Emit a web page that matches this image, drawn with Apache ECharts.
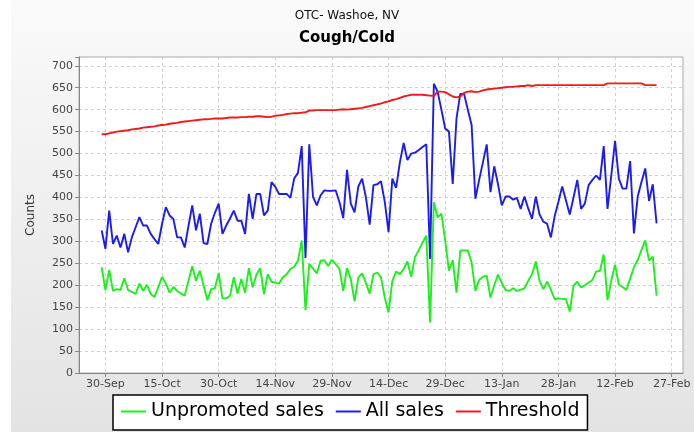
<!DOCTYPE html>
<html>
<head>
<meta charset="utf-8">
<script src="https://cdn.jsdelivr.net/npm/echarts@6/dist/echarts.min.js"></script>
<style>
  html, body { margin: 0; padding: 0; background: #fff; }
  #chart { width: 694px; height: 432px; }
</style>
</head>
<body>
<div id="chart"></div>
<script>
// daily values, first value is 29-Sep (day -1 counted from 30-Sep)
var firstDay = -1;
var axisStartDay = -7;   // 23-Sep
var axisEndDay = 153;    // 2-Mar
var tickLabels = ['30-Sep', '15-Oct', '30-Oct', '14-Nov', '29-Nov', '14-Dec', '29-Dec', '13-Jan', '28-Jan', '12-Feb', '27-Feb'];
var monthNames = ['Jan', 'Feb', 'Mar', 'Apr', 'May', 'Jun', 'Jul', 'Aug', 'Sep', 'Oct', 'Nov', 'Dec'];

var unpromoted = [
  241, 189, 235, 187, 191, 189, 216, 189, 185, 180, 204, 187, 201, 180, 173, 196,
  219, 204, 183, 196, 187, 181, 176, 210, 243, 210, 233, 200, 166, 191, 193, 228,
  170, 170, 176, 218, 181, 214, 183, 239, 195, 224, 239, 180, 225, 208, 206, 204,
  218, 225, 237, 242, 256, 302, 143, 248, 238, 227, 256, 257, 244, 258, 248, 237,
  187, 239, 214, 163, 218, 227, 205, 181, 225, 229, 218, 172, 138, 210, 231, 225,
  237, 254, 219, 264, 280, 297, 313, 115, 389, 355, 363, 302, 233, 257, 183, 279,
  279, 279, 252, 187, 212, 219, 222, 172, 200, 224, 205, 189, 187, 193, 187, 190,
  193, 210, 225, 254, 210, 191, 208, 190, 168, 170, 169, 168, 140, 199, 208, 195,
  200, 206, 212, 231, 233, 270, 166, 210, 247, 201, 196, 189, 215, 241, 257, 280,
  302, 256, 265, 176
];

var allSales = [
  325, 283, 370, 294, 313, 286, 317, 275, 309, 332, 355, 336, 336, 317, 305, 294,
  340, 378, 359, 351, 309, 309, 286, 335, 382, 325, 363, 296, 294, 340, 365, 386,
  317, 336, 352, 370, 347, 347, 317, 408, 351, 408, 408, 359, 370, 435, 424, 408,
  408, 408, 399, 443, 456, 517, 262, 521, 401, 382, 405, 416, 415, 415, 416, 389,
  353, 463, 386, 366, 425, 443, 400, 338, 428, 430, 437, 390, 321, 443, 422, 480,
  524, 485, 500, 502, 508, 515, 521, 260, 659, 641, 600, 557, 550, 431, 580, 636,
  636, 600, 565, 397, 440, 480, 521, 412, 471, 430, 382, 402, 402, 395, 399, 374,
  402, 375, 351, 402, 361, 345, 340, 309, 357, 390, 425, 393, 361, 400, 440, 374,
  386, 428, 440, 450, 440, 517, 374, 450, 529, 443, 420, 420, 483, 318, 402, 435,
  466, 392, 430, 341
];

var threshold = [
  544, 544, 546, 548, 550, 551, 552, 553, 555, 556, 557, 559, 560, 561, 562, 564,
  565, 566, 568, 569, 570, 572, 573, 574, 575, 576, 577, 578, 578, 579, 580, 580,
  580, 581, 582, 582, 582, 583, 583, 584, 584, 585, 585, 584, 583, 584, 586, 587,
  588, 590, 591, 592, 592, 593, 594, 598, 598, 599, 599, 599, 599, 599, 599, 600,
  601, 600, 601, 602, 603, 604, 606, 608, 610, 612, 614, 617, 619, 622, 624, 627,
  630, 632, 634, 634, 634, 634, 633, 632, 631, 641, 641, 640, 635, 630, 628, 630,
  638, 641, 642, 640, 641, 644, 646, 647, 648, 649, 650, 651, 652, 652, 653, 654,
  654, 656, 654, 656, 656, 656, 656, 656, 656, 656, 656, 656, 656, 656, 656, 656,
  656, 656, 656, 656, 656, 656, 660, 660, 660, 660, 660, 660, 660, 660, 660, 660,
  656, 656, 656, 656
];

// category axis: one entry per day
var dates = [];
for (var d = axisStartDay; d <= axisEndDay; d++) {
  var dt = new Date(Date.UTC(2009, 8, 30) + d * 86400000);
  dates.push(dt.getUTCDate() + '-' + monthNames[dt.getUTCMonth()]);
}

function pad(arr) {
  var out = [];
  for (var d = axisStartDay; d <= axisEndDay; d++) {
    var i = d - firstDay;
    out.push(i >= 0 && i < arr.length ? arr[i] : null);
  }
  return out;
}

function isTick(index) {
  return tickLabels.indexOf(dates[index]) >= 0;
}

var chart = echarts.init(document.getElementById('chart'));

var font = 'DejaVu Sans';

var option = {
  backgroundColor: {
    type: 'linear', x: 0, y: 0, x2: 0, y2: 1,
    colorStops: [{ offset: 0, color: '#fafafa' }, { offset: 1, color: '#e3e3e3' }]
  },
  animation: false,
  textStyle: { fontFamily: font },
  title: [{
    text: 'OTC- Washoe, NV',
    left: 'center',
    top: 5,
    textStyle: { fontSize: 12, fontWeight: 'normal', color: '#111', fontFamily: font }
  }, {
    text: 'Cough/Cold',
    left: 'center',
    top: 26,
    textStyle: { fontSize: 15, fontWeight: 'bold', color: '#000', fontFamily: font }
  }],
  graphic: [{
    type: 'rect',
    left: 0, top: 0,
    shape: { width: 11, height: 432 },
    style: { fill: '#ffffff' },
    z: -1
  }],
  legend: {
    left: 113,
    top: 395,
    padding: [7, 8, 9, 8],
    backgroundColor: '#fff',
    borderColor: '#000',
    borderWidth: 1.5,
    borderRadius: 0,
    itemWidth: 25,
    itemHeight: 2,
    itemGap: 12,
    icon: 'rect',
    textStyle: { fontSize: 19, color: '#000', fontFamily: font },
    data: ['Unpromoted sales', 'All sales', 'Threshold']
  },
  grid: {
    left: 79,
    right: 11,
    top: 57,
    bottom: 59,
    show: true,
    backgroundColor: '#fff',
    borderColor: '#aaa',
    borderWidth: 1
  },
  xAxis: {
    type: 'category',
    data: dates,
    boundaryGap: false,
    axisLine: { lineStyle: { color: '#888' } },
    axisTick: { show: true, interval: isTick, length: 4, lineStyle: { color: '#888' } },
    axisLabel: {
      interval: isTick,
      fontSize: 11,
      color: '#444',
      margin: 6,
      hideOverlap: false
    },
    splitLine: {
      show: true,
      interval: isTick,
      lineStyle: { color: '#d0d0d0', type: [3, 3] }
    }
  },
  yAxis: {
    type: 'value',
    min: 0,
    max: 720,
    interval: 50,
    name: 'Counts',
    nameLocation: 'middle',
    nameGap: 42,
    nameTextStyle: { fontSize: 12, color: '#333' },
    axisLine: { show: true, lineStyle: { color: '#888' } },
    axisTick: { show: true, length: 4, lineStyle: { color: '#888' } },
    axisLabel: {
      fontSize: 11,
      color: '#444',
      margin: 6,
      formatter: function (v) { return v % 50 === 0 && v <= 700 ? String(v) : ''; }
    },
    splitLine: { lineStyle: { color: '#d0d0d0', type: [3, 3] } }
  },
  series: [{
    name: 'Unpromoted sales',
    type: 'line',
    data: pad(unpromoted),
    showSymbol: false,
    color: '#1cf01c',
    lineStyle: { width: 1.9, color: '#1cf01c' }
  }, {
    name: 'All sales',
    type: 'line',
    data: pad(allSales),
    showSymbol: false,
    color: '#1c1cf0',
    lineStyle: { width: 1.9, color: '#1c1cf0' }
  }, {
    name: 'Threshold',
    type: 'line',
    data: pad(threshold),
    showSymbol: false,
    color: '#f01c1c',
    lineStyle: { width: 1.9, color: '#f01c1c' }
  }]
};

chart.setOption(option);
</script>
</body>
</html>
